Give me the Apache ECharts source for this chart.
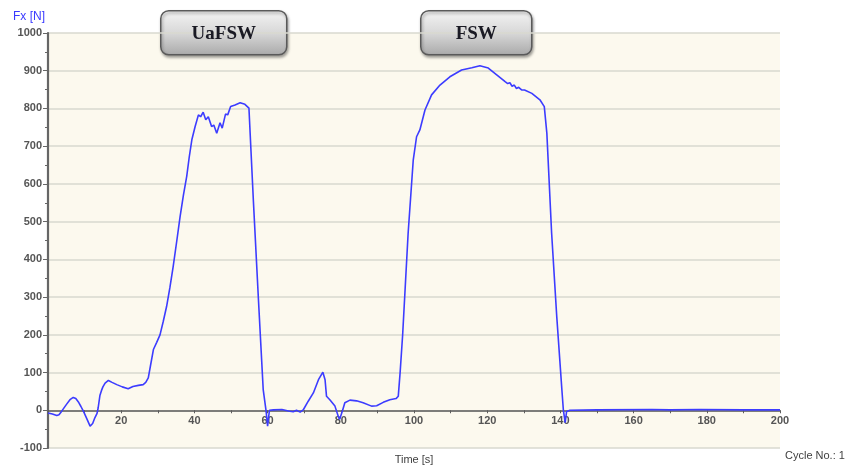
<!DOCTYPE html>
<html>
<head>
<meta charset="utf-8">
<title>Fx [N]</title>
<script src="https://cdn.jsdelivr.net/npm/echarts@6/dist/echarts.min.js"></script>
<style>
  html, body { margin: 0; padding: 0; background: #ffffff; }
  #chart { width: 859px; height: 469px; }
</style>
</head>
<body>
<div id="chart"></div>
<script>
// Process force Fx over time for one welding cycle (UaFSW pass, then FSW pass)
const timeS = [
  0, 1.2, 2.4, 3.0, 3.7, 5.0, 6.0, 6.9, 7.6, 8.3, 9.0, 9.7, 10.5, 11.5, 12.2, 12.8, 13.4, 13.7,
  14.2, 14.4, 14.6, 15.0, 15.6, 16.5, 17.5, 18.8, 20.3, 21.9, 23.2, 24.7, 26.0, 26.7, 27.4, 28.0,
  28.8, 29.7, 30.6, 31.5, 32.4, 33.3, 34.2, 35.2, 36.1, 37.0, 37.9, 38.6, 39.3, 40.2, 41.1, 41.7,
  42.4, 43.1, 43.8, 44.7, 45.3, 46.1, 47.0, 47.6, 48.5, 49.1, 49.9, 51.1, 52.5, 53.8, 54.9, 56.1,
  57.5, 58.8, 59.6, 60.0, 60.5, 61.6, 63.9, 65.7, 67.0, 67.9, 68.9, 69.8, 71.1, 72.5, 73.9, 75.1,
  75.7, 76.1, 77.0, 78.4, 79.3, 79.7, 80.5, 81.1, 82.5, 84.3, 86.1, 88.4, 89.8, 91.6, 93.4, 95.1,
  95.7, 96.2, 96.9, 98.4, 99.8, 100.7, 101.6, 103.0, 104.8, 107.1, 109.8, 113.0, 115.8, 118.0,
  120.3, 122.6, 124.9, 125.6, 126.2, 126.8, 127.4, 128.0, 128.6, 129.4, 130.2, 132.2, 134.4,
  135.6, 136.3, 137.6, 139.0, 140.4, 140.8, 141.3, 141.7, 142.6, 150, 165, 170, 178, 190, 200
];

const forceN = [
  -7, -10, -14, -12, -3, 15, 28, 34, 31, 22, 10, -3, -20, -42, -35, -20, -8, 6,
  40, 46, 52, 62, 72, 79, 74, 68, 62, 57, 63, 66, 68, 74, 86, 118,
  161, 180, 200, 236, 275, 325, 381, 450, 514, 570, 620, 672, 717, 752, 783, 778,
  790, 770, 778, 752, 756, 734, 762, 748, 785, 783, 805, 809, 815, 811, 801, 558,
  293, 55, -3, -42, 0, 1, 2, -2, -4, 0, -5, 2, 24, 46, 81, 101,
  81, 37, 28, 11, -16, -24, 0, 20, 27, 25, 20, 11, 12, 21, 28, 31,
  37, 99, 200, 470, 664, 725, 743, 796, 836, 862, 884, 902, 908, 913,
  907, 889, 871, 866, 868, 859, 862, 853, 856, 849, 849, 840, 823,
  805, 734, 470, 249, 55, 2, -33, -3, 0, 1, 2, 1, 2, 1, 1
];

const phaseLabels = ['UaFSW', 'FSW'];

const yMin = -100;
const yMax = 1000;

const chart = echarts.init(document.getElementById('chart'), null, { renderer: 'canvas' });

const points = timeS.map((t, i) => [t, forceN[i]]);

const labelFont = '"Liberation Sans", Arial, sans-serif';

// plot area in pixels
const gridTop = 33;
const gridBottom = 21;
const plotHeight = 469 - gridTop - gridBottom;
// lift the time axis from the plot's bottom edge up to the Fx = 0 line
const zeroLift = plotHeight * (0 - yMin) / (yMax - yMin);

function phaseBox(label, left, width) {
  return {
    type: 'group',
    left: left,
    top: 10,
    children: [
      {
        type: 'rect',
        shape: { x: 0, y: 0, width: width, height: 44, r: 8 },
        style: {
          fill: new echarts.graphic.LinearGradient(0, 0, 0, 1, [
            { offset: 0, color: '#f4f4f4' },
            { offset: 0.5, color: '#d8d8d8' },
            { offset: 1, color: '#a9a9a9' }
          ]),
          stroke: '#5a5a5a',
          lineWidth: 1.5,
          shadowBlur: 3,
          shadowOffsetX: 1,
          shadowOffsetY: 2,
          shadowColor: 'rgba(0,0,0,0.35)'
        }
      },
      {
        type: 'text',
        x: width / 2,
        y: 23,
        z: 10,
        style: {
          text: label,
          fill: '#1a1a24',
          stroke: null,
          lineWidth: 0,
          shadowBlur: 0,
          textShadowBlur: 0,
          fontFamily: '"Liberation Serif", "DejaVu Serif", serif',
          fontSize: 19,
          fontWeight: 'bold',
          align: 'center',
          verticalAlign: 'middle'
        }
      }
    ]
  };
}

chart.setOption({
  animation: false,
  backgroundColor: '#ffffff',
  grid: {
    left: 48,
    right: 79,
    top: gridTop,
    bottom: gridBottom,
    outerBoundsMode: 'none',
    containLabel: false,
    show: true,
    backgroundColor: '#fcf9ee',
    borderWidth: 0
  },
  xAxis: {
    type: 'value',
    min: 0,
    max: 200,
    interval: 20,
    offset: -zeroLift,
    name: 'Time [s]',
    nameLocation: 'middle',
    nameGap: 44,
    nameTextStyle: { color: '#404040', fontSize: 11, fontFamily: labelFont },
    axisLine: { onZero: false, lineStyle: { color: '#5c5c5c', width: 1.6 } },
    axisTick: { show: true, length: 3, lineStyle: { color: '#5c5c5c' } },
    minorTick: { show: true, splitNumber: 2, length: 3, lineStyle: { color: '#5c5c5c' } },
    axisLabel: {
      color: '#555555',
      fontSize: 11,
      fontWeight: 'bold',
      fontFamily: labelFont,
      margin: 5,
      showMinLabel: false
    },
    splitLine: { show: false }
  },
  yAxis: {
    type: 'value',
    min: yMin,
    max: yMax,
    interval: 100,
    name: 'Fx [N]',
    nameLocation: 'end',
    nameGap: 10,
    nameTextStyle: {
      color: '#3a3aff',
      fontSize: 12,
      fontFamily: labelFont,
      align: 'right',
      padding: [0, 3, 0, 0]
    },
    axisLine: { show: true, lineStyle: { color: '#666666', width: 2.2 } },
    axisTick: { show: true, length: 5, lineStyle: { color: '#666666' } },
    minorTick: { show: true, splitNumber: 2, length: 3, lineStyle: { color: '#666666' } },
    axisLabel: {
      color: '#555555',
      fontSize: 11,
      fontWeight: 'bold',
      fontFamily: labelFont,
      margin: 6,
      formatter: (v) => String(v)
    },
    splitLine: { show: true, lineStyle: { color: '#d9d9cf', width: 1.5 } }
  },
  series: [
    {
      type: 'line',
      data: points,
      showSymbol: false,
      smooth: false,
      lineStyle: { color: '#3c3cff', width: 1.6 },
      z: 3
    }
  ],
  graphic: [
    phaseBox(phaseLabels[0], 160, 126),
    phaseBox(phaseLabels[1], 420, 111),
    {
      type: 'text',
      left: 785,
      top: 450,
      style: {
        text: 'Cycle No.: 1',
        fill: '#404040',
        fontSize: 11,
        fontFamily: labelFont
      }
    }
  ]
});
</script>
</body>
</html>
